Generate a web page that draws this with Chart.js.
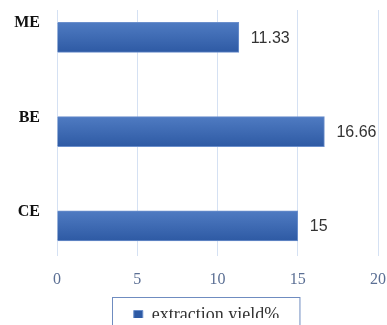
<!DOCTYPE html>
<html>
<head>
<meta charset="utf-8">
<script src="https://cdn.jsdelivr.net/npm/chart.js@4/dist/chart.umd.min.js"></script>
<style>
    html, body { margin: 0; padding: 0; background: #fff; }
    #wrap { width: 387px; height: 325px; }
</style>
</head>
<body>
<div id="wrap"><canvas id="myChart"></canvas></div>
<script>
let categories = ['ME', 'BE', 'CE'];
let yields = [11.33, 16.66, 15];
let seriesName = 'extraction yield%';
let xTicks = [0, 5, 10, 15, 20];

/*Bar gradient*/

function barGradient(context) {
    const chart = context.chart;
    const yScale = chart.scales.y;
    if (!yScale || context.dataIndex === undefined) {
        return '#3d67b1';
    }
    const center = yScale.getPixelForValue(context.dataIndex);
    if (!isFinite(center)) {
        return '#3d67b1';
    }
    const gradient = chart.ctx.createLinearGradient(0, center - 15, 0, center + 15);
    gradient.addColorStop(0, '#4f7bc2');
    gradient.addColorStop(1, '#2e5aa4');
    return gradient;
}

/*Value labels*/

const valueLabels = {
    id: 'valueLabels',
    afterDatasetsDraw(chart) {
        const ctx = chart.ctx;
        const meta = chart.getDatasetMeta(0);
        ctx.save();
        ctx.font = '16px "Liberation Sans"';
        ctx.fillStyle = '#333333';
        ctx.textBaseline = 'middle';
        ctx.textAlign = 'left';
        meta.data.forEach((bar, i) => {
            ctx.fillText(String(yields[i]), bar.x + 12, bar.y + 1);
        });
        ctx.restore();
    }
};

/*Legend position + frame*/

const legendFrame = {
    id: 'legendFrame',
    afterLayout(chart) {
        const legend = chart.legend;
        const h = legend.bottom - legend.top;
        legend.left += 13;
        legend.right += 13;
        legend.top = 298;
        legend.bottom = 298 + h;
    },
    afterDraw(chart) {
        const box = chart.legend.legendHitBoxes[0];
        if (!box) return;
        const ctx = chart.ctx;
        ctx.save();
        ctx.strokeStyle = '#6f8cc0';
        ctx.lineWidth = 1;
        ctx.strokeRect(Math.round(box.left - 22) + 0.5, Math.round(box.top - 9) + 0.5, box.width + 42, 60);
        ctx.restore();
    }
};

function buildData() {
    return {
        datasets: [{
            label: seriesName,
            data: yields.map((v, i) => ({ x: v, y: i })),
            backgroundColor: barGradient,
            borderColor: '#6b8fcc',
            borderWidth: 1,
            barThickness: 30
        }]
    };
}

function buildOptions() {
    return {
        indexAxis: 'y',
        responsive: true,
        maintainAspectRatio: false,
        animation: false,
        layout: { padding: { left: 0, right: 0, top: 10, bottom: 0 } },
        plugins: {
            tooltip: { enabled: false },
            legend: {
                position: 'bottom',
                maxHeight: 20,
                labels: {
                    boxWidth: 9,
                    boxHeight: 9,
                    padding: 8,
                    color: '#333333',
                    font: { family: '"Liberation Serif"', size: 18 }
                }
            }
        },
        scales: {
            x: {
                type: 'linear',
                min: 0,
                max: 20,
                afterBuildTicks: (scale) => { scale.ticks = xTicks.map(v => ({ value: v })); },
                afterFit: (scale) => {
                    scale.paddingLeft = 4;
                    scale.paddingRight = 9;
                    scale.height = scale.chart.height - scale.chart.legend.height - 256;
                },
                grid: { color: '#d5e1f3', drawTicks: false },
                border: { display: false },
                ticks: {
                    padding: 14,
                    color: '#5b6f94',
                    font: { family: '"Liberation Serif"', size: 16 }
                }
            },
            y: {
                type: 'linear',
                reverse: true,
                offset: false,
                min: -0.29,
                max: 2.32,
                afterBuildTicks: (scale) => { scale.ticks = categories.map((c, i) => ({ value: i })); },
                afterFit: (scale) => {
                    scale.width = 57;
                    scale.paddingTop = 0;
                    scale.paddingBottom = 0;
                },
                grid: { display: false, drawTicks: false, offset: false },
                border: { display: false },
                ticks: {
                    padding: 17,
                    autoSkip: false,
                    labelOffset: -14,
                    color: '#111111',
                    callback: (value) => categories[value],
                    font: { family: '"Liberation Serif"', size: 16, weight: 'bold' }
                }
            }
        }
    };
}

new Chart(document.getElementById('myChart'), {
    type: 'bar',
    data: buildData(),
    options: buildOptions(),
    plugins: [valueLabels, legendFrame]
});
</script>
</body>
</html>
